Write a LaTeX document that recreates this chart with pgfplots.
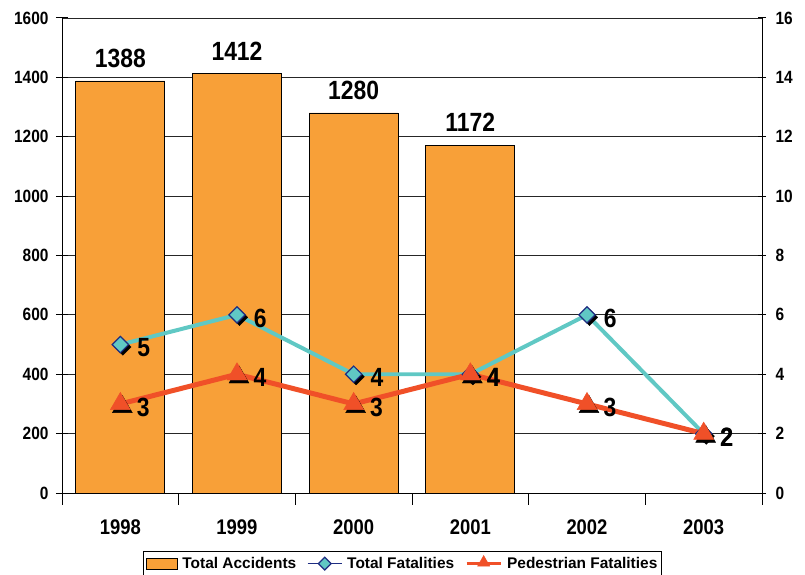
\documentclass[border=0pt]{standalone}
\usepackage{pgfplots}
\pgfplotsset{compat=1.18}
\usepackage{pgfplotstable}
\usepackage{fontspec}
\setmainfont{Liberation Sans}
\definecolor{barorange}{RGB}{248,160,56}
\definecolor{tfcyan}{RGB}{96,200,196}
\definecolor{pfred}{RGB}{240,80,40}
\definecolor{dblue}{RGB}{30,45,130}
\pgfplotstableread{
x acc
0 1388
1 1412
2 1280
3 1172
}\acc
\pgfplotstableread{
x tf pf
0 5 3
1 6 4
2 4 3
3 4 4
4 6 3
5 2 2
}\fat
\pgfplotsset{
  /pgf/number format/1000 sep={},
  /pgf/number format/assume math mode=true,
  base/.style={
    at={(0,0)}, anchor=south west,
    scale only axis, width=700bp, height=475bp,
    xmin=-0.5, xmax=5.5,
    tick align=center,
    major tick length=8bp,
    axis line style={black, line width=1pt},
    tick style={black, line width=1pt},
  }
}
\begin{document}
\begin{tikzpicture}
\path[use as bounding box] (-62bp,-82bp) rectangle (743bp,493bp);
\begin{axis}[base,
  ymin=0, ymax=1600,
  axis x line*=bottom, axis y line*=left,
  major tick length=12bp,
  xtick={-0.5,0.5,...,5.5}, xticklabels={},
  extra x ticks={0,1,2,3,4,5},
  extra x tick labels={1998,1999,2000,2001,2002,2003},
  extra x tick style={major tick length=0pt, grid=none,
    xticklabel style={font=\bfseries\fontsize{18.5}{19}\selectfont, yscale=1.15, yshift=-20bp}},
  ytick={0,200,...,1600},
  yticklabel style={font=\bfseries\fontsize{15.5}{16}\selectfont, yscale=1.15, xshift=-4bp},
  ymajorgrids, grid style={black!85, line width=0.8pt},
  ybar, bar width=89bp,
  nodes near coords,
  every node near coord/.append style={font=\bfseries\fontsize{23}{23}\selectfont, yscale=1.15, black, yshift=8bp},
]
\addplot[fill=barorange, draw=black, line width=0.8pt] table[x=x,y=acc]{\acc};
\end{axis}
\begin{axis}[base,
  ymin=0, ymax=16,
  axis y line*=right, axis x line=none,
  ytick={0,2,...,16},
  yticklabel style={font=\bfseries\fontsize{15.5}{16}\selectfont, yscale=1.15, xshift=6bp},
  legend style={at={(0.4864,-0.1221)}, anchor=north, draw=black, line width=0.6pt,
    font=\bfseries\fontsize{15.5}{15.5}\selectfont, inner xsep=2pt, inner ysep=4pt,
    /tikz/every odd column/.append style={column sep=3bp},
    /tikz/every even column/.append style={column sep=9bp}},
  legend columns=3,
  every node near coord/.append style={font=\bfseries\fontsize{23}{23}\selectfont, yscale=1.15, black, anchor=west, xshift=13bp, yshift=-3bp},
]
\addlegendimage{legend image code/.code={\draw[fill=barorange, draw=black, line width=0.8pt] (0bp,-5.5bp) rectangle (31bp,5.5bp);}}
\addlegendentry{Total Accidents}
% shadows of diamonds
\addplot[draw=none, mark=square*, mark size=5.8bp,
  mark options={black, xshift=2.5bp, yshift=-2.5bp, rotate=45}, forget plot] table[x=x,y=tf]{\fat};
\addplot[tfcyan, line width=4pt, mark=square*, mark size=5.8bp,
  mark options={rotate=45, fill=tfcyan, draw=dblue, line width=1.2pt},
  nodes near coords,
  legend image code/.code={\draw[dblue, line width=1pt] (0bp,0bp) -- (34bp,0bp);
    \draw[mark size=4.5bp] plot coordinates {(17bp,0bp)};}
] table[x=x,y=tf]{\fat};
\addlegendentry{Total Fatalities}
% shadows of triangles
\addplot[draw=none, mark=triangle*, mark size=11.5bp,
  mark options={black, xshift=2bp, yshift=-3bp}, forget plot] table[x=x,y=pf]{\fat};
\addplot[pfred, line width=5pt, mark=triangle*, mark size=11.5bp,
  mark options={fill=pfred, draw=pfred, line width=0.5pt},
  nodes near coords,
  legend image code/.code={\draw[line width=3pt] (0bp,0bp) -- (34bp,0bp);
    \draw[mark size=7bp] plot coordinates {(17bp,1bp)};}
] table[x=x,y=pf]{\fat};
\addlegendentry{Pedestrian Fatalities}
\end{axis}
\end{tikzpicture}
\end{document}
